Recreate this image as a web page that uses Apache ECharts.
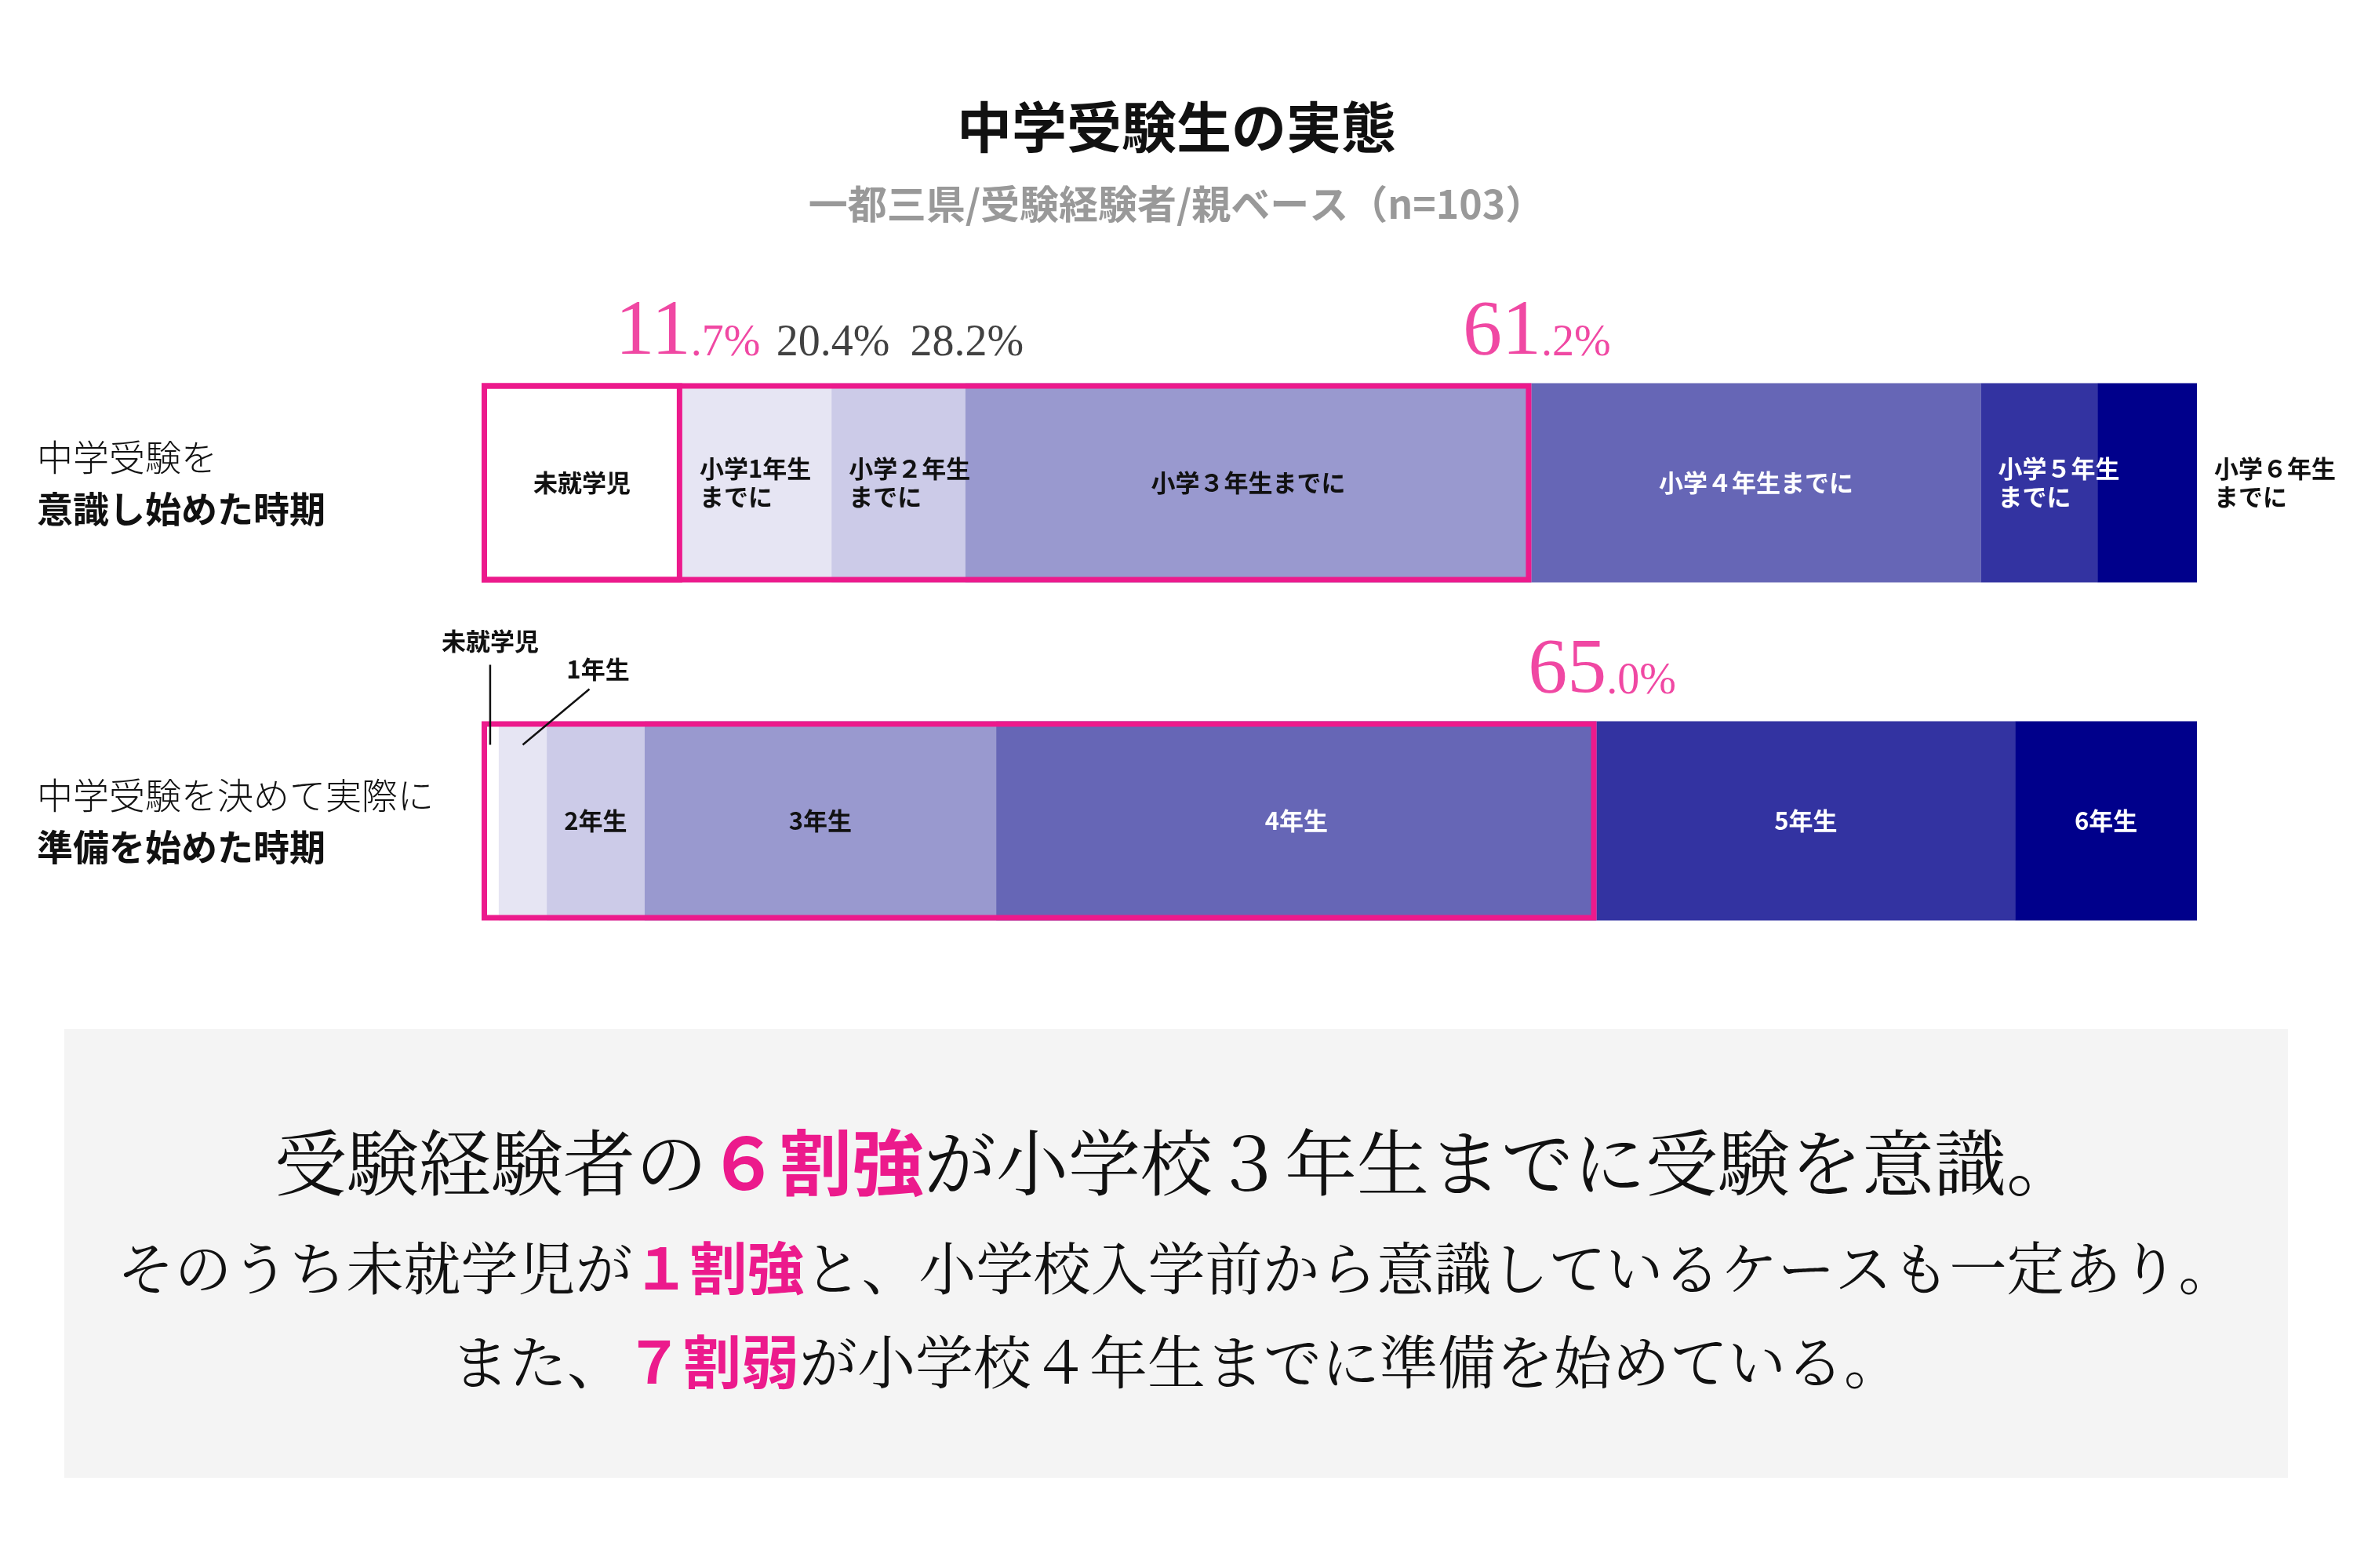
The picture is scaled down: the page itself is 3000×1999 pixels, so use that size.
<!DOCTYPE html>
<html lang="ja">
<head>
<meta charset="UTF-8">
<title>中学受験生の実態</title>
<script src="https://cdn.jsdelivr.net/npm/echarts@6/dist/echarts.min.js"></script>
<style>html,body{margin:0;padding:0;background:#fff}</style>
</head>
<body>
<div id="main" style="width:3000px;height:1999px"></div>
<script>
// 行（カテゴリ）
var rowKeys = ['意識', '準備'];
var rowLabels = [
    '{l|中学受験を}\n{b|意識し始めた時期}',
    '{l|中学受験を決めて実際に}\n{b|準備を始めた時期}'
];
// 区分
var segNames = ['未就学児', '小学1年生', '小学2年生', '小学3年生', '小学4年生', '小学5年生', '小学6年生'];
// 各区分の割合（%）
var awareVals = [11.7, 8.7, 7.8, 33.0, 26.2, 6.8, 5.8];
var prepVals = [1.0, 2.8, 5.7, 20.5, 35.0, 24.4, 10.6];
// バー内ラベル
var awareTexts = ['未就学児', '小学1年生\nまでに', '小学２年生\nまでに', '小学３年生までに', '小学４年生までに', '小学５年生\nまでに', '小学６年生\nまでに'];
var prepTexts = ['未就学児', '1年生', '2年生', '3年生', '4年生', '5年生', '6年生'];
// 累積％を表示する区分（index）と強調するもの
var awareMarks = [0, 1, 2, 3];
var awareHot = [0, 3];
var prepMarks = [4];
var prepHot = [4];
// 下段の本文
var noteLines = [
    ['受験経験者の', '６割強', 'が小学校３年生までに受験を意識。'],
    ['そのうち未就学児が', '１割強', 'と、小学校入学前から意識しているケースも一定あり。'],
    ['また、', '７割弱', 'が小学校４年生までに準備を始めている。']
];

// ---- style ----
var pink = '#EC1A8C';
var segColors = ['#FFFFFF', '#E6E5F3', '#CCCBE8', '#9999CF', '#6666B6', '#3333A1', '#00008B'];
var topPos = ['inside', 'insideLeft', 'insideLeft', 'inside', 'inside', 'insideLeft', 'right'];
var topColor = ['#111', '#111', '#111', '#111', '#fff', '#fff', '#111'];
var botColor = ['#111', '#111', '#111', '#111', '#fff', '#fff', '#fff'];
var sans = '"Noto Sans CJK JP", "Noto Sans", sans-serif';
var serif = '"Liberation Serif", "DejaVu Serif", serif';
var mincho = '"Noto Serif CJK JP", "Noto Sans CJK JP", serif';
var barW = 254;

function cumsum(arr) {
    var s = 0;
    return arr.map(function (v) { s += v; return Math.round(s * 10) / 10; });
}
var awareCum = cumsum(awareVals);
var prepCum = cumsum(prepVals);

function segLabel(text, pos, color) {
    return {
        show: true, position: pos, distance: 22, formatter: text,
        color: color, fontSize: 31, lineHeight: 36, fontWeight: 'bold', fontFamily: sans
    };
}

var series = segNames.map(function (name, i) {
    return {
        type: 'bar', name: name, stack: 'total', barWidth: barW, barGap: '-100%',
        silent: true,
        itemStyle: { color: segColors[i] },
        data: [
            { value: awareVals[i], label: segLabel(awareTexts[i], topPos[i], topColor[i]) },
            { value: prepVals[i], label: i < 2 ? { show: false } : segLabel(prepTexts[i], 'inside', botColor[i]) }
        ]
    };
});

// ピンク枠
var outline = { color: 'transparent', borderColor: pink, borderWidth: 7 };
series.push({
    type: 'bar', barWidth: barW, barGap: '-100%', silent: true, z: 5,
    itemStyle: outline,
    data: [awareCum[awareHot[1]], prepCum[prepHot[0]]]
});
series.push({
    type: 'bar', barWidth: barW, barGap: '-100%', silent: true, z: 5,
    itemStyle: outline,
    data: [awareCum[awareHot[0]], '-']
});

// 累積％ラベル
function markItem(cum, row, hot) {
    var t = cum.toFixed(1) + '%';
    var dot = t.indexOf('.');
    var f = hot ? '{pb|' + t.slice(0, dot) + '}{ps|' + t.slice(dot) + '}' : '{n|' + t + '}';
    return { value: [cum, row], label: { formatter: f, offset: [hot ? 7 : 2, 0] } };
}
var markData = [];
awareMarks.forEach(function (i) { markData.push(markItem(awareCum[i], rowKeys[0], awareHot.indexOf(i) >= 0)); });
prepMarks.forEach(function (i) { markData.push(markItem(prepCum[i], rowKeys[1], prepHot.indexOf(i) >= 0)); });
series.push({
    type: 'scatter', symbolSize: 0, silent: true, z: 10,
    data: markData,
    label: {
        show: true, position: 'top', distance: 141,
        rich: {
            pb: { fontFamily: serif, fontSize: 100, lineHeight: 100, color: pink, verticalAlign: 'bottom' },
            ps: { fontFamily: serif, fontSize: 56, lineHeight: 56, color: pink, verticalAlign: 'bottom', padding: [0, 0, 8, 0] },
            n: { fontFamily: serif, fontSize: 56, lineHeight: 56, color: '#111', verticalAlign: 'bottom', padding: [0, 0, 8, 0] }
        }
    }
});

// 本文
var noteY = [1482, 1616, 1736];
var noteSize = [92, 73, 74];
var noteGraphics = [{
    type: 'rect', id: 'box', z: -10, silent: true,
    shape: { x: 82, y: 1312, width: 2835, height: 572 },
    style: { fill: '#F4F4F4' }
}];
noteLines.forEach(function (ln, k) {
    noteGraphics.push({
        type: 'text', id: 'note' + k, x: 1500, y: noteY[k], silent: true,
        style: {
            text: '{n|' + ln[0] + '}{p|' + ln[1] + '}{n|' + ln[2] + '}',
            align: 'center', verticalAlign: 'middle',
            rich: {
                n: { fontFamily: mincho, fontSize: noteSize[k], fill: '#111' },
                p: { fontFamily: sans, fontSize: noteSize[k], fontWeight: 'bold', fill: pink }
            }
        }
    });
});

var chart = echarts.init(document.getElementById('main'));
chart.setOption({
    animation: false,
    backgroundColor: '#fff',
    title: {
        text: '中学受験生の実態',
        subtext: '一都三県/受験経験者/親ベース（n=103）',
        left: 'center', top: 122, itemGap: 38,
        textStyle: { fontSize: 70, fontWeight: 'bold', color: '#111', fontFamily: sans },
        subtextStyle: { fontSize: 50, fontWeight: 'bold', color: '#999', fontFamily: sans }
    },
    grid: { left: 614, right: 199, top: 400, height: 862 },
    xAxis: { type: 'value', min: 0, max: 100, show: false },
    yAxis: {
        type: 'category', data: rowKeys, inverse: true,
        axisLine: { show: false }, axisTick: { show: false },
        axisLabel: {
            align: 'left', margin: 567,
            formatter: function (v, i) { return rowLabels[i]; },
            rich: {
                l: { fontFamily: sans, fontSize: 46, fontWeight: 300, color: '#111', lineHeight: 66 },
                b: { fontFamily: sans, fontSize: 46, fontWeight: 'bold', color: '#111', lineHeight: 66 }
            }
        }
    },
    series: series,
    graphic: noteGraphics
});

// 下段の細い区分に引き出し線
var x0 = chart.convertToPixel({ gridIndex: 0 }, [prepVals[0] / 2, rowKeys[1]]);
var x1 = chart.convertToPixel({ gridIndex: 0 }, [prepVals[0] + prepVals[1] / 2, rowKeys[1]]);
var barTop = x0[1] - barW / 2;
var lead = { stroke: '#111', lineWidth: 2.5 };
var leadFont = { fontFamily: sans, fontSize: 31, fontWeight: 'bold', fill: '#111', align: 'center', verticalAlign: 'middle' };
chart.setOption({
    graphic: [
        { type: 'line', id: 'lead0', silent: true, shape: { x1: x0[0], y1: barTop + 30, x2: x0[0], y2: barTop - 72 }, style: lead, z: 20 },
        { type: 'text', id: 'leadT0', silent: true, x: x0[0], y: barTop - 102, style: Object.assign({ text: prepTexts[0] }, leadFont), z: 20 },
        { type: 'line', id: 'lead1', silent: true, shape: { x1: x1[0], y1: barTop + 30, x2: x1[0] + 85, y2: barTop - 41 }, style: lead, z: 20 },
        { type: 'text', id: 'leadT1', silent: true, x: x1[0] + 96, y: barTop - 66, style: Object.assign({ text: prepTexts[1] }, leadFont), z: 20 }
    ]
});
</script>
</body>
</html>
